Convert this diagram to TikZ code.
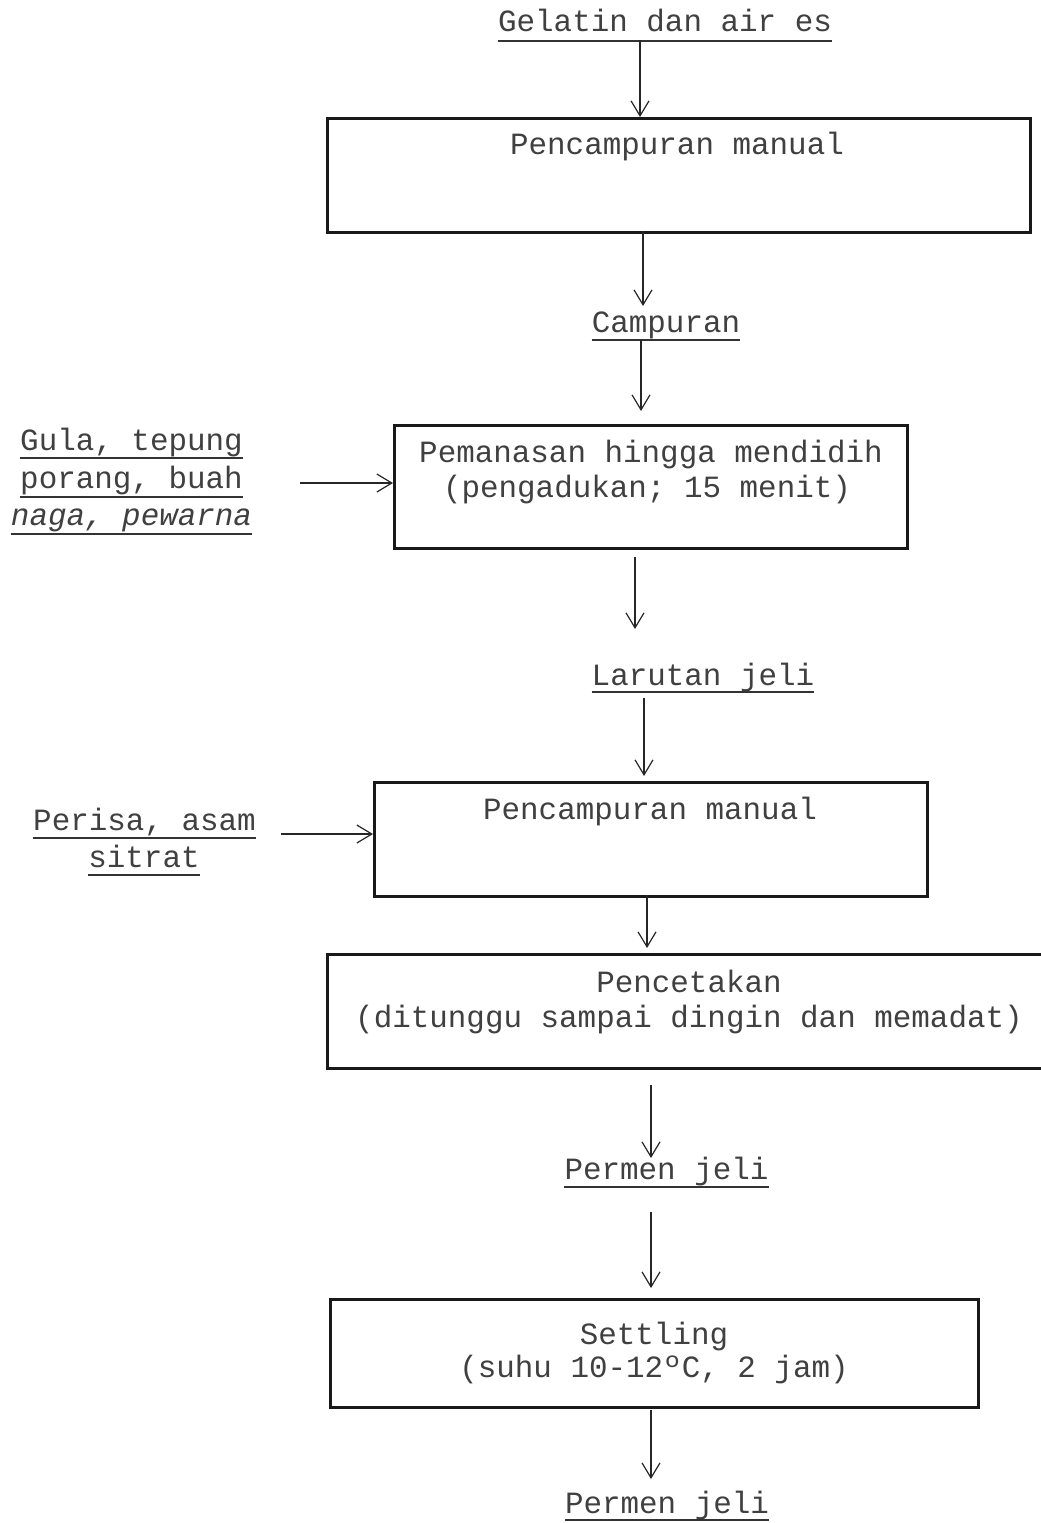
\documentclass[tikz,border=0pt]{standalone}
\usepackage{fontspec}
\newfontfamily\monof{Liberation Mono}
\usetikzlibrary{arrows.meta}
\begin{document}
\begin{tikzpicture}[x=1pt,y=-1pt,
  txt/.style={font=\monof\fontsize{30.9}{36}\selectfont, text=black!75, inner sep=0pt, anchor=base},
  box/.style={draw=black!90, line width=2.6pt, inner sep=0pt, anchor=north west},
  arr/.style={draw=black!85, line width=1.2pt, -{Straight Barb[length=15pt,width=18pt,line width=1.2pt]}},
  ul/.style={draw=black!80, line width=2pt}]
\clip (0,0) rectangle (1041,1523);
\fill[white] (0,0) rectangle (1041,1523);

% boxes
\node[box, minimum width=703pt, minimum height=114pt] (b1) at (326,117) {};
\node[box, minimum width=513pt, minimum height=123pt] (b2) at (393,424) {};
\node[box, minimum width=553pt, minimum height=114pt] (b3) at (373,781) {};
\node[box, minimum width=724pt, minimum height=114pt] (b4) at (326,953) {};
\node[box, minimum width=648pt, minimum height=108pt] (b5) at (329,1298) {};

% box texts
\node[txt] (t1) at (677,154) {Pencampuran manual};
\node[txt] (t2a) at (651,462) {Pemanasan hingga mendidih};
\node[txt] (t2b) at (647,497) {(pengadukan; 15 menit)};
\node[txt] (t3) at (650,819) {Pencampuran manual};
\node[txt] (t4a) at (689,992) {Pencetakan};
\node[txt] (t4b) at (689,1027) {(ditunggu sampai dingin dan memadat)};
\node[txt] (t5a) at (654,1344) {Settling};
\node[txt] (t5b) at (654,1377) {(suhu 10-12ºC, 2 jam)};

% underlined labels
\node[txt] (gel) at (665,31) {Gelatin dan air es};
\node[txt] (camp) at (666,332) {Campuran};
\node[txt] (gula1) at (131.5,450) {Gula, tepung};
\node[txt] (gula2) at (131.5,488) {porang, buah};
\node[txt] (gula3) at (131.5,525) {\itshape naga, pewarna};
\node[txt] (lar) at (703,685) {Larutan jeli};
\node[txt] (per1) at (144.5,830) {Perisa, asam};
\node[txt] (per2) at (144,867) {sitrat};
\node[txt] (pj1) at (666.5,1179) {Permen jeli};
\node[txt] (pj2) at (667,1513) {Permen jeli};

\foreach \n/\d in {gel/10pt, camp/8pt, gula1/8pt, gula2/9pt, gula3/9pt, lar/7pt, per1/8pt, per2/8pt, pj1/8pt, pj2/7pt}{
  \draw[ul] ([yshift=-\d]\n.base west) -- ([yshift=-\d]\n.base east);
}

% arrow coordinates
\coordinate (a1) at (640,40);
\coordinate (a2s) at (643,231);  \coordinate (a2e) at (643,306);
\coordinate (a3s) at (641,340);  \coordinate (a3e) at (641,411);
\coordinate (a4) at (300,483);
\coordinate (a5s) at (635,557);  \coordinate (a5e) at (635,629);
\coordinate (a6s) at (644,698);  \coordinate (a6e) at (644,776);
\coordinate (a7) at (281,834);
\coordinate (a8s) at (647,895);  \coordinate (a8e) at (647,948);
\coordinate (a9s) at (651,1085); \coordinate (a9e) at (651,1158);
\coordinate (a10s) at (651,1212);\coordinate (a10e) at (651,1288);
\coordinate (a11s) at (651,1410);\coordinate (a11e) at (651,1479);

\draw[arr] (a1) -- (a1 |- b1.north);
\draw[arr] (a2s) -- (a2e);
\draw[arr] (a3s) -- (a3e);
\draw[arr] (a4) -- (a4 -| b2.west);
\draw[arr] (a5s) -- (a5e);
\draw[arr] (a6s) -- (a6e);
\draw[arr] (a7) -- (a7 -| b3.west);
\draw[arr] (a8s) -- (a8e);
\draw[arr] (a9s) -- (a9e);
\draw[arr] (a10s) -- (a10e);
\draw[arr] (a11s) -- (a11e);
\end{tikzpicture}
\end{document}
